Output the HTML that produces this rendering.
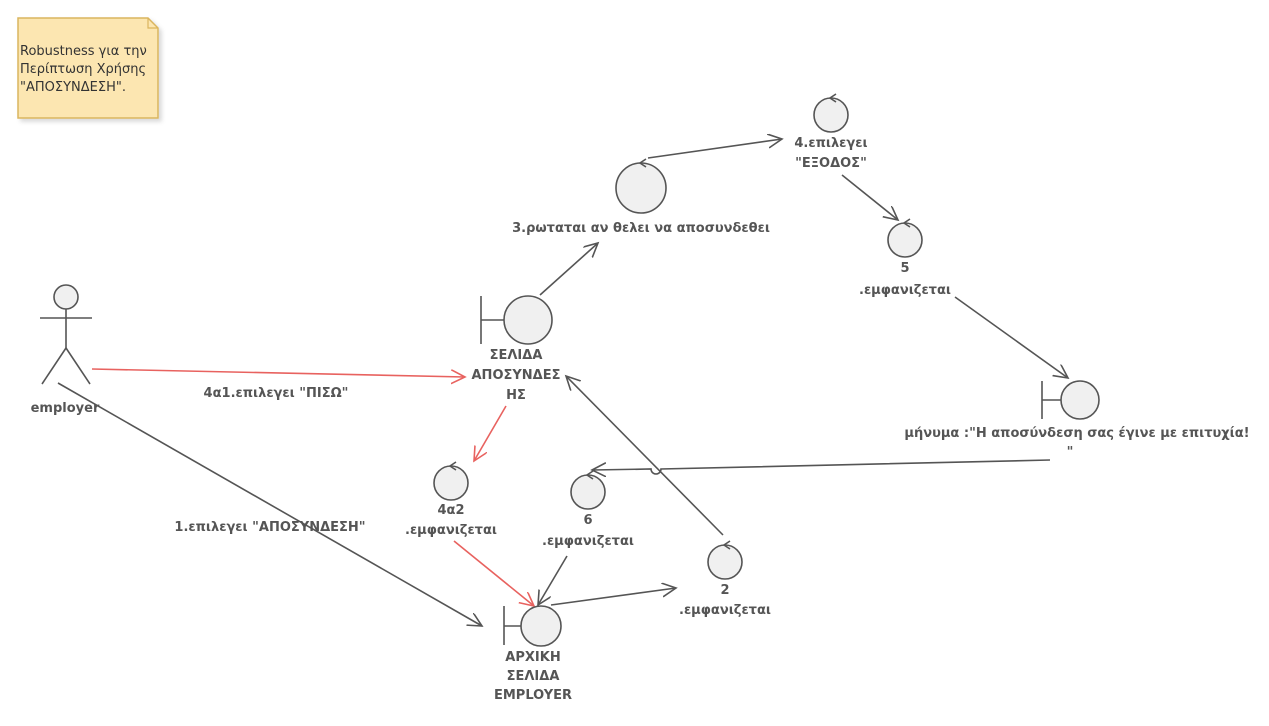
<!DOCTYPE html>
<html><head><meta charset="utf-8"><style>
html,body{margin:0;padding:0;background:#fff;}
svg{display:block;}
text{font-family:"DejaVu Sans","Liberation Sans",sans-serif;font-size:13px;font-weight:bold;fill:#555;}
.n{font-weight:normal;font-size:13px;fill:#333;}
</style></head><body>
<svg width="1269" height="726" viewBox="0 0 1269 726" xmlns="http://www.w3.org/2000/svg">
<defs>
<marker id="a" markerWidth="20" markerHeight="20" refX="14" refY="7" orient="auto" markerUnits="userSpaceOnUse"><path d="M0,0 L14,7 L0,14" fill="none" stroke="#555" stroke-width="1.6"/></marker>
<marker id="r" markerWidth="20" markerHeight="20" refX="14" refY="7" orient="auto" markerUnits="userSpaceOnUse"><path d="M0,0 L14,7 L0,14" fill="none" stroke="#e8625f" stroke-width="1.6"/></marker>
<filter id="sh" x="-10%" y="-10%" width="130%" height="130%"><feDropShadow dx="3" dy="3" stdDeviation="2" flood-color="#000" flood-opacity="0.15"/></filter>
</defs>
<!-- note -->
<path d="M18,18 L148,18 L158,28 L158,118 L18,118 Z" fill="#fce6b1" stroke="#dab55e" stroke-width="1.5" filter="url(#sh)"/>
<path d="M148,18 L148,28 L158,28" fill="none" stroke="#dab55e" stroke-width="1.2"/>
<text class="n" x="20" y="55">Robustness για την</text>
<text class="n" x="20" y="73">Περίπτωση Χρήσης</text>
<text class="n" x="20" y="91">"ΑΠΟΣΥΝΔΕΣΗ".</text>
<!-- actor -->
<g stroke="#555" stroke-width="1.6" fill="none">
<circle cx="66" cy="297" r="12" fill="#f0f0f0"/>
<line x1="66" y1="309" x2="66" y2="348"/>
<line x1="40" y1="318" x2="92" y2="318"/>
<line x1="66" y1="348" x2="42" y2="384"/>
<line x1="66" y1="348" x2="90" y2="384"/>
</g>
<text x="65" y="412" text-anchor="middle">employer</text>
<!-- connectors -->
<g stroke="#555" stroke-width="1.6" fill="none">
<line x1="58" y1="383" x2="482" y2="626" marker-end="url(#a)"/>
<line x1="540" y1="295" x2="598" y2="243" marker-end="url(#a)"/>
<line x1="648" y1="158" x2="782" y2="139" marker-end="url(#a)"/>
<line x1="842" y1="175" x2="898" y2="220" marker-end="url(#a)"/>
<line x1="955" y1="297" x2="1068" y2="378" marker-end="url(#a)"/>
<path d="M1050,460 L661,469 A5,5 0 0 1 651,469 L592,470" marker-end="url(#a)"/>
<line x1="567" y1="556" x2="538" y2="605" marker-end="url(#a)"/>
<line x1="551" y1="605" x2="676" y2="588" marker-end="url(#a)"/>
<line x1="723" y1="535" x2="566" y2="376" marker-end="url(#a)"/>
</g>
<g stroke="#e8625f" stroke-width="1.6" fill="none">
<line x1="92" y1="369" x2="465" y2="377" marker-end="url(#r)"/>
<line x1="506" y1="406" x2="474" y2="461" marker-end="url(#r)"/>
<line x1="454" y1="541" x2="534" y2="606" marker-end="url(#r)"/>
</g>
<text x="276" y="397" text-anchor="middle">4α1.επιλεγει "ΠΙΣΩ"</text>
<text x="270" y="531" text-anchor="middle">1.επιλεγει "ΑΠΟΣΥΝΔΕΣΗ"</text>
<!-- boundaries -->
<g stroke="#555" stroke-width="1.6" fill="#f0f0f0">
<circle cx="528" cy="320" r="24"/>
<line x1="481" y1="296" x2="481" y2="344"/>
<line x1="481" y1="320" x2="504" y2="320"/>
<circle cx="541" cy="626" r="20"/>
<line x1="504" y1="606" x2="504" y2="645"/>
<line x1="504" y1="626" x2="521" y2="626"/>
<circle cx="1080" cy="400" r="19"/>
<line x1="1042" y1="381" x2="1042" y2="419"/>
<line x1="1042" y1="400" x2="1061" y2="400"/>
</g>
<text x="516" y="359" text-anchor="middle">ΣΕΛΙΔΑ</text>
<text x="516" y="379" text-anchor="middle">ΑΠΟΣΥΝΔΕΣ</text>
<text x="516" y="399" text-anchor="middle">ΗΣ</text>
<text x="533" y="661" text-anchor="middle">ΑΡΧΙΚΗ</text>
<text x="533" y="680" text-anchor="middle">ΣΕΛΙΔΑ</text>
<text x="533" y="699" text-anchor="middle">EMPLOYER</text>
<text x="1077" y="437" text-anchor="middle">μήνυμα :"Η αποσύνδεση σας έγινε με επιτυχία!</text>
<text x="1070" y="456" text-anchor="middle">"</text>
<!-- controls -->
<g stroke="#555" stroke-width="1.6" fill="#f0f0f0">
<circle cx="641" cy="188" r="25"/><path d="M646,159 L640,163 L646,167" fill="none"/>
<circle cx="831" cy="115" r="17"/><path d="M836,94 L830,98 L836,102" fill="none"/>
<circle cx="905" cy="240" r="17"/><path d="M910,219 L904,223 L910,227" fill="none"/>
<circle cx="451" cy="483" r="17"/><path d="M456,462 L450,466 L456,470" fill="none"/>
<circle cx="588" cy="492" r="17"/><path d="M593,471 L587,475 L593,479" fill="none"/>
<circle cx="725" cy="562" r="17"/><path d="M730,541 L724,545 L730,549" fill="none"/>
</g>
<text x="641" y="232" text-anchor="middle">3.ρωταται αν θελει να αποσυνδεθει</text>
<text x="831" y="147" text-anchor="middle">4.επιλεγει</text>
<text x="831" y="167" text-anchor="middle">"ΕΞΟΔΟΣ"</text>
<text x="905" y="272" text-anchor="middle">5</text>
<text x="905" y="294" text-anchor="middle">.εμφανιζεται</text>
<text x="451" y="514" text-anchor="middle">4α2</text>
<text x="451" y="534" text-anchor="middle">.εμφανιζεται</text>
<text x="588" y="524" text-anchor="middle">6</text>
<text x="588" y="545" text-anchor="middle">.εμφανιζεται</text>
<text x="725" y="594" text-anchor="middle">2</text>
<text x="725" y="614" text-anchor="middle">.εμφανιζεται</text>
</svg>
</body></html>
